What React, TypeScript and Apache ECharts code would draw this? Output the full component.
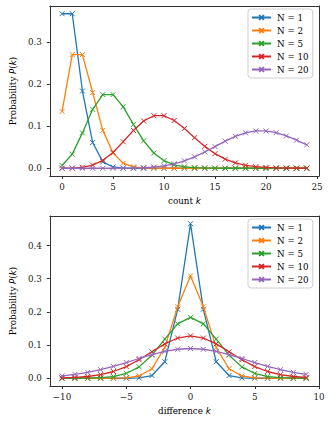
import React, { useEffect, useRef } from "react";
import * as echarts from "echarts";

const seriesNames = ["N = 1", "N = 2", "N = 5", "N = 10", "N = 20"];
const colors = ["#1f77b4", "#ff7f0e", "#2ca02c", "#d62728", "#9467bd"];

// Top panel: count k = 0..24
const countK = [0, 1, 2, 3, 4, 5, 6, 7, 8, 9, 10, 11, 12, 13, 14, 15, 16, 17, 18, 19, 20, 21, 22, 23, 24];
const countN1 = [0.3679, 0.3679, 0.1839, 0.0613, 0.0153, 0.0031, 0.0005, 0.0001, 0, 0, 0, 0, 0, 0, 0, 0, 0, 0, 0, 0, 0, 0, 0, 0, 0];
const countN2 = [0.1353, 0.2707, 0.2707, 0.1804, 0.0902, 0.0361, 0.012, 0.0034, 0.0009, 0.0002, 0, 0, 0, 0, 0, 0, 0, 0, 0, 0, 0, 0, 0, 0, 0];
const countN5 = [0.0067, 0.0337, 0.0842, 0.1404, 0.1755, 0.1755, 0.1462, 0.1044, 0.0653, 0.0363, 0.0181, 0.0082, 0.0034, 0.0013, 0.0005, 0.0002, 0, 0, 0, 0, 0, 0, 0, 0, 0];
const countN10 = [0, 0.0005, 0.0023, 0.0076, 0.0189, 0.0378, 0.0631, 0.0901, 0.1126, 0.1251, 0.1251, 0.1137, 0.0948, 0.0729, 0.0521, 0.0347, 0.0217, 0.0128, 0.0071, 0.0037, 0.0019, 0.0009, 0.0004, 0.0002, 0.0001];
const countN20 = [0, 0, 0, 0, 0, 0.0001, 0.0002, 0.0005, 0.0013, 0.0029, 0.0058, 0.0106, 0.0176, 0.0271, 0.0387, 0.0516, 0.0646, 0.076, 0.0844, 0.0888, 0.0888, 0.0846, 0.0769, 0.0669, 0.0557];

// Bottom panel: difference k = -10..9
const diffK = [-10, -9, -8, -7, -6, -5, -4, -3, -2, -1, 0, 1, 2, 3, 4, 5, 6, 7, 8, 9];
const diffN1 = [0, 0, 0, 0, 0, 0.0001, 0.001, 0.0082, 0.0499, 0.2079, 0.4658, 0.2079, 0.0499, 0.0082, 0.001, 0.0001, 0, 0, 0, 0];
const diffN2 = [0, 0, 0, 0, 0.0002, 0.0013, 0.0069, 0.0288, 0.0932, 0.2153, 0.3085, 0.2153, 0.0932, 0.0288, 0.0069, 0.0013, 0.0002, 0, 0, 0];
const diffN5 = [0, 0.0001, 0.0005, 0.0017, 0.0052, 0.0145, 0.0344, 0.0696, 0.118, 0.164, 0.1835, 0.164, 0.118, 0.0696, 0.0344, 0.0145, 0.0052, 0.0017, 0.0005, 0.0001];
const diffN10 = [0.001, 0.0024, 0.0053, 0.0108, 0.0204, 0.0353, 0.0557, 0.0798, 0.1036, 0.1213, 0.1278, 0.1213, 0.1036, 0.0798, 0.0557, 0.0353, 0.0204, 0.0108, 0.0053, 0.0024];
const diffN20 = [0.0073, 0.0117, 0.0178, 0.0259, 0.0359, 0.0475, 0.0596, 0.0713, 0.081, 0.0875, 0.0898, 0.0875, 0.081, 0.0713, 0.0596, 0.0475, 0.0359, 0.0259, 0.0178, 0.0117];

const countTicks = [0, 5, 10, 15, 20, 25];
const countYTicks = [0, 0.1, 0.2, 0.3];
const diffTicks = [-10, -5, 0, 5, 10];
const diffYTicks = [0, 0.1, 0.2, 0.3, 0.4];

const FONT = "DejaVu Serif";
const FS = 8.75;
const X_SYMBOL = "path://M0,0L10,10M10,0L0,10";
const FRAME = "#333";

const countSeries = [countN1, countN2, countN5, countN10, countN20];
const diffSeries = [diffN1, diffN2, diffN5, diffN10, diffN20];

const minus = (s: string) => s.replace("-", "\u2212");

const nameStyle = {
  fontFamily: FONT,
  fontSize: FS,
  color: "#000",
  rich: { i: { fontFamily: "DejaVu Sans", fontStyle: "italic", fontSize: FS, color: "#000" } },
};

function makeXAxis(gridIndex: number, min: number, max: number, ticks: number[], name: string) {
  return {
    type: "value",
    gridIndex,
    min,
    max,
    name,
    nameLocation: "middle",
    nameGap: 20,
    nameTextStyle: nameStyle,
    splitLine: { show: false },
    axisLine: { show: true, onZero: false, lineStyle: { color: FRAME, width: 1 } },
    axisTick: { show: true, length: 3, customValues: ticks, lineStyle: { color: FRAME } },
    axisLabel: {
      customValues: ticks,
      fontFamily: FONT,
      fontSize: FS,
      color: "#222",
      margin: 6,
      formatter: (v: number) => minus(String(v)),
    },
  };
}

function makeYAxis(gridIndex: number, min: number, max: number, ticks: number[]) {
  return {
    type: "value",
    gridIndex,
    min,
    max,
    name: "Probability {i|P}({i|k})",
    nameLocation: "middle",
    nameRotate: 90,
    nameGap: 27,
    nameTextStyle: nameStyle,
    splitLine: { show: false },
    axisLine: { show: true, onZero: false, lineStyle: { color: FRAME, width: 1 } },
    axisTick: { show: true, length: 3, customValues: ticks, lineStyle: { color: FRAME } },
    axisLabel: {
      customValues: ticks,
      fontFamily: FONT,
      fontSize: FS,
      color: "#222",
      margin: 8,
      formatter: (v: number) => v.toFixed(1),
    },
  };
}

function frameAxis(gridIndex: number, position: string, min: number, max: number) {
  return {
    type: "value",
    gridIndex,
    position,
    min,
    max,
    splitLine: { show: false },
    axisLine: { show: true, onZero: false, lineStyle: { color: FRAME, width: 1 } },
    axisTick: { show: false },
    axisLabel: { show: false },
  };
}

function makeLegend(top: number) {
  return {
    data: seriesNames,
    orient: "vertical",
    left: 248,
    top,
    itemWidth: 19,
    itemHeight: 6,
    itemGap: 4,
    padding: [4, 4, 4, 3],
    borderColor: "#d0d0d0",
    borderWidth: 1,
    borderRadius: 3,
    backgroundColor: "rgba(255,255,255,0.85)",
    textStyle: { fontFamily: FONT, fontSize: FS, color: "#000", padding: [0, 0, 0, 1] },
    selectedMode: false,
  };
}

export default function App() {
  const ref = useRef<HTMLDivElement>(null);
  useEffect(() => {
    if (!ref.current) return;
    const chart = echarts.init(ref.current, null, { renderer: "svg" });
    const series: any[] = [];
    seriesNames.forEach((name, i) => {
      const common = {
        name,
        type: "line",
        symbol: X_SYMBOL,
        symbolSize: 5,
        showSymbol: true,
        lineStyle: { color: colors[i], width: 1.3 },
        itemStyle: { color: colors[i], borderColor: colors[i], borderWidth: 1 },
        emphasis: { disabled: true },
        z: 2 + i,
      };
      series.push({
        ...common,
        xAxisIndex: 0,
        yAxisIndex: 0,
        data: countK.map((k, j) => [k, countSeries[i][j]]),
      });
      series.push({
        ...common,
        xAxisIndex: 1,
        yAxisIndex: 1,
        data: diffK.map((k, j) => [k, diffSeries[i][j]]),
      });
    });
    chart.setOption({
      animation: false,
      backgroundColor: "#fff",
      grid: [
        { left: 42, top: 6, width: 277, height: 170 },
        { left: 42, top: 216, width: 277, height: 170 },
      ],
      legend: [makeLegend(9), makeLegend(219)],
      xAxis: [
        makeXAxis(0, -1.2, 25.2, countTicks, "count {i|k}"),
        makeXAxis(1, -10.95, 10, diffTicks, "difference {i|k}"),
        frameAxis(0, "top", -1.2, 25.2),
        frameAxis(1, "top", -10.95, 10),
      ],
      yAxis: [
        makeYAxis(0, -0.0184, 0.3863, countYTicks),
        makeYAxis(1, -0.0233, 0.4891, diffYTicks),
        frameAxis(0, "right", -0.0184, 0.3863),
        frameAxis(1, "right", -0.0233, 0.4891),
      ],
      series,
    });
    return () => chart.dispose();
  }, []);
  return (
    <div
      ref={ref}
      style={{ position: "absolute", left: 0, top: 0, width: 328, height: 423 }}
    />
  );
}
